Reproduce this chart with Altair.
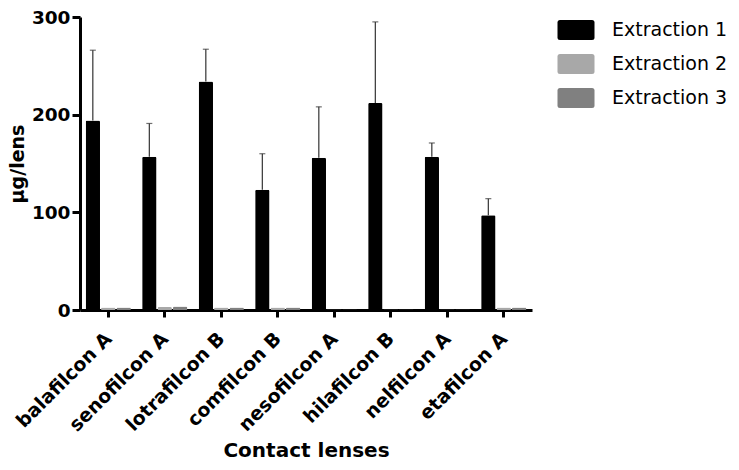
import altair as alt
import pandas as pd

lenses = ["balafilcon A", "senofilcon A", "lotrafilcon B", "comfilcon B",
          "nesofilcon A", "hilafilcon B", "nelfilcon A", "etafilcon A"]
series = ["Extraction 1", "Extraction 2", "Extraction 3"]
ext1_mean = [194, 157, 234, 123, 156, 212, 157, 97]
ext1_sd = [72, 34, 33, 37, 52, 83, 14, 17]
ext2_mean = [2.5, 3.0, 2.5, 2.5, 0.5, 0.5, 0.5, 2.5]
ext3_mean = [2.5, 3.5, 2.5, 2.5, 0.5, 0.5, 0.5, 2.5]
colors = ["#000000", "#a8a8a8", "#808080"]

rows = []
for i, lens in enumerate(lenses):
    for s, m in zip(series, [ext1_mean[i], ext2_mean[i], ext3_mean[i]]):
        rows.append({"lens": lens, "extraction": s, "value": m})
df = pd.DataFrame(rows)
err = pd.DataFrame({
    "lens": lenses,
    "extraction": ["Extraction 1"] * len(lenses),
    "value": ext1_mean,
    "upper": [m + s for m, s in zip(ext1_mean, ext1_sd)],
})

FONT = "DejaVu Sans"

x = alt.X("lens:N", sort=lenses,
          scale=alt.Scale(paddingInner=0.2, paddingOuter=0.1),
          axis=alt.Axis(title="Contact lenses", labelAngle=-45,
                        labelFont=FONT, labelFontSize=19, labelFontWeight="bold",
                        labelColor="black", labelPadding=12, labelOffset=-6,
                        titleFont=FONT, titleFontSize=20, titleFontWeight="bold",
                        titleColor="black", titlePadding=6,
                        domainColor="black", domainWidth=3,
                        tickColor="black", tickWidth=3, tickSize=7))
xoff = alt.XOffset("extraction:N",
                   scale=alt.Scale(domain=series, paddingInner=0.07, paddingOuter=0))
y = alt.Y("value:Q",
          scale=alt.Scale(domain=[0, 300], nice=False),
          axis=alt.Axis(values=[0, 100, 200, 300], title="µg/lens", grid=False,
                        labelFont=FONT, labelFontSize=18.5, labelFontWeight="bold",
                        labelColor="black", labelPadding=2,
                        titleFont=FONT, titleFontSize=19, titleFontWeight="bold",
                        titleColor="black", titlePadding=4,
                        domainColor="black", domainWidth=3,
                        tickColor="black", tickWidth=3, tickSize=8))

legend_shape = ("M-1.6,-1 L1.6,-1 Q1.85,-1 1.85,-0.75 L1.85,0.75 Q1.85,1 1.6,1 "
                "L-1.6,1 Q-1.85,1 -1.85,0.75 L-1.85,-0.75 Q-1.85,-1 -1.6,-1 Z")

bars = alt.Chart(df).mark_bar(cornerRadiusTopLeft=1.5, cornerRadiusTopRight=1.5).encode(
    x=x, xOffset=xoff, y=y,
    color=alt.Color("extraction:N",
                    scale=alt.Scale(domain=series, range=colors),
                    legend=alt.Legend(title=None, orient="none", legendX=486, legendY=3,
                                      symbolType=legend_shape, symbolSize=400,
                                      symbolStrokeWidth=0, labelOffset=26,
                                      labelFont=FONT, labelFontSize=19,
                                      labelColor="black", rowPadding=14, padding=0)),
)

rules = alt.Chart(err).mark_rule(color="#333333", strokeWidth=1.2).encode(
    x=x, xOffset=xoff, y="value:Q", y2="upper:Q")
caps = alt.Chart(err).mark_tick(color="#333333", thickness=1.2, size=6).encode(
    x=x, xOffset=xoff, y="upper:Q")

chart = alt.layer(rules, bars, caps).properties(
    width=452, height=293,
    autosize=alt.AutoSizeParams(type="none"),
    padding={"left": 72, "top": 9, "right": 198, "bottom": 152},
).configure_view(stroke=None)

chart.save("out.html", embed_options={"renderer": "svg", "actions": False})
